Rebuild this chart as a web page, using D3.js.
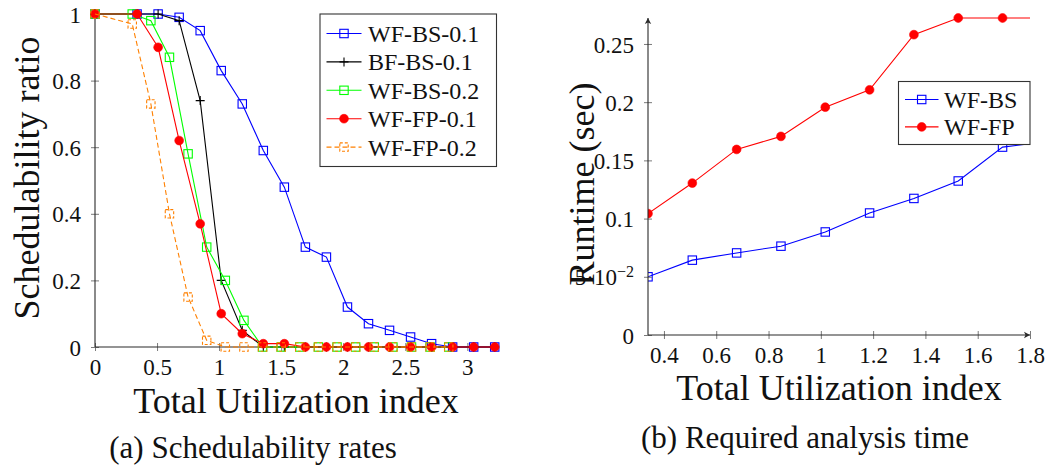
<!DOCTYPE html>
<html><head><meta charset="utf-8">
<script src="https://cdn.jsdelivr.net/npm/d3@7/dist/d3.min.js"></script>
<style>
html,body{margin:0;padding:0;background:#fff;}
svg{display:block;}
svg text{font-family:"Liberation Serif","Times New Roman",serif !important;}
</style></head>
<body>
<svg id="c" width="1049" height="466"></svg>
<script>
// ---------- data: (a) schedulability ----------
const xStepA = [0, 0.339, 0.5085, 0.678, 0.8475, 1.017, 1.1865, 1.356, 1.5255, 1.695, 1.8645, 2.034, 2.2035, 2.373, 2.5425, 2.712, 2.8815, 3.051, 3.2205];
const xStepB = [0, 0.3, 0.45, 0.6, 0.75, 0.9, 1.05, 1.2, 1.35, 1.5, 1.65, 1.8, 1.95, 2.1, 2.25, 2.4, 2.55, 2.7, 2.85];
const wfBs01 = [1, 1, 1, 0.99, 0.95, 0.83, 0.73, 0.59, 0.48, 0.30, 0.27, 0.12, 0.07, 0.05, 0.03, 0.01, 0, 0, 0];
const bfBs01 = [1, 1, 1, 0.98, 0.74, 0.20, 0.05, 0, 0, 0, 0, 0, 0, 0, 0, 0, 0, 0, 0];
const wfBs02 = [1, 1, 0.98, 0.87, 0.58, 0.30, 0.20, 0.08, 0, 0, 0, 0, 0, 0, 0, 0, 0, 0, 0];
const wfFp01 = [1, 1, 0.90, 0.62, 0.37, 0.10, 0.04, 0.01, 0.01, 0, 0, 0, 0, 0, 0, 0, 0, 0, 0];
const wfFp02 = [1, 0.97, 0.73, 0.40, 0.15, 0.02, 0, 0, 0, 0, 0, 0, 0, 0, 0, 0, 0, 0, 0];
const seriesNamesA = ["WF-BS-0.1", "BF-BS-0.1", "WF-BS-0.2", "WF-FP-0.1", "WF-FP-0.2"];
const xTicksA = [0, 0.5, 1, 1.5, 2, 2.5, 3];
const xTickLabelsA = ["0", "0.5", "1", "1.5", "2", "2.5", "3"];
const yTicksA = [0, 0.2, 0.4, 0.6, 0.8, 1];
const yTickLabelsA = ["0", "0.2", "0.4", "0.6", "0.8", "1"];

// ---------- data: (b) runtime ----------
const xUtilB = [0.339, 0.5085, 0.678, 0.8475, 1.017, 1.1865, 1.356, 1.5255, 1.695, 1.8645];
const runtimeBs = [0.050, 0.0643, 0.0705, 0.0763, 0.0885, 0.1048, 0.1173, 0.1323, 0.1614, 0.166];
const runtimeFp = [0.1043, 0.1305, 0.1594, 0.1706, 0.1957, 0.2106, 0.258, 0.2723, 0.2723, 0.2723];
const seriesNamesB = ["WF-BS", "WF-FP"];
const xTicksB = [0.4, 0.6, 0.8, 1, 1.2, 1.4, 1.6, 1.8];
const xTickLabelsB = ["0.4", "0.6", "0.8", "1", "1.2", "1.4", "1.6", "1.8"];
const yTicksB = [0, 0.05, 0.1, 0.15, 0.2, 0.25];
const yTickLabelsB = ["0", "5e-2", "0.1", "0.15", "0.2", "0.25"];

const svg = d3.select("#c");
const AX = "#2a2a2a", TK = "#7a7a7a";
const SERIF = "'Liberation Serif', 'Times New Roman', serif";
const tickFont = 23, legFont = 24, titleFont = 36, capFont = 31;

function markerPath(sel, type, color, dash) {
  if (type === "square") {
    sel.append("rect").attr("x", -4.2).attr("y", -4.2).attr("width", 8.4).attr("height", 8.4)
      .attr("fill", "none").attr("stroke", color).attr("stroke-width", 1.1)
      .attr("stroke-dasharray", dash || null);
  } else if (type === "circle") {
    sel.append("circle").attr("r", 4.4).attr("fill", color).attr("stroke", color).attr("stroke-width", 0.6);
  } else if (type === "plus") {
    sel.append("path").attr("d", "M-4.5,0H4.5M0,-4.5V4.5").attr("stroke", color).attr("stroke-width", 1.1).attr("fill", "none");
  }
}

function drawAxes(g, x, y, xt, xtl, yt, ytl, arrows) {
  const x0 = x.range()[0], x1 = x.range()[1], y0 = y.range()[0], y1 = y.range()[1];
  const ax = d3.axisBottom(x).tickValues(xt).tickFormat((d, i) => xtl[i]).tickSizeOuter(0).tickSize(4).tickPadding(7);
  const gx = g.append("g").attr("transform", `translate(0,${y0})`).call(ax);
  gx.attr("font-family", SERIF);
  gx.select(".domain").remove();
  gx.selectAll(".tick line").attr("y1", -4).attr("y2", 4).attr("stroke", TK);
  gx.selectAll(".tick text").attr("font-size", tickFont).style("font-family", SERIF).attr("fill", "#111")
    .attr("y", 20).attr("dy", "0.35em");
  const ay = d3.axisLeft(y).tickValues(yt).tickFormat((d, i) => ytl[i]).tickSizeOuter(0).tickSize(4).tickPadding(10);
  const gy = g.append("g").attr("transform", `translate(${x0},0)`).call(ay);
  gy.attr("font-family", SERIF);
  gy.select(".domain").remove();
  gy.selectAll(".tick line").attr("x1", -4).attr("x2", 4).attr("stroke", TK);
  gy.selectAll(".tick text").attr("font-size", tickFont).style("font-family", SERIF).attr("fill", "#111").attr("dy", "0.35em");
  g.append("line").attr("x1", x0).attr("x2", x1).attr("y1", y0).attr("y2", y0).attr("stroke", AX).attr("stroke-width", 1.1);
  g.append("line").attr("x1", x0).attr("x2", x0).attr("y1", y0).attr("y2", y1).attr("stroke", AX).attr("stroke-width", 1.1);
  if (arrows) {
    g.append("path").attr("d", `M${x1},${y0}l-6,-3.2l1.5,3.2l-1.5,3.2z`).attr("fill", AX);
    g.append("path").attr("d", `M${x0},${y1}l-3.2,6l3.2,-1.5l3.2,1.5z`).attr("fill", AX);
  }
}

function addText(g, x, y, size, str, anchor, transform) {
  const t = g.append("text").attr("dy", "0.35em").attr("text-anchor", anchor || "start")
    .attr("font-size", size).style("font-family", SERIF).attr("fill", "#111").text(str);
  if (transform) t.attr("transform", transform); else t.attr("x", x).attr("y", y);
  return t;
}

// ================= Chart (a) =================
const xA = d3.scaleLinear().domain([0, 3.255]).range([95, 499]);
const yA = d3.scaleLinear().domain([0, 1]).range([347, 14]);
const gA = svg.append("g");
drawAxes(gA, xA, yA, xTicksA, xTickLabelsA, yTicksA, yTickLabelsA, false);

const seriesA = [
  {name: seriesNamesA[0], xs: xStepA, ys: wfBs01, color: "#0000ff", mark: "square", dash: null},
  {name: seriesNamesA[1], xs: xStepA, ys: bfBs01, color: "#000000", mark: "plus", dash: null},
  {name: seriesNamesA[2], xs: xStepB, ys: wfBs02, color: "#00ff00", mark: "square", dash: null},
  {name: seriesNamesA[3], xs: xStepA, ys: wfFp01, color: "#ff0000", mark: "circle", dash: null},
  {name: seriesNamesA[4], xs: xStepB, ys: wfFp02, color: "#ff8000", mark: "square", dash: "5,3"}
];
const lineA = d3.line().x(d => xA(d[0])).y(d => yA(d[1]));
seriesA.forEach(s => {
  const pts = s.xs.map((x, i) => [x, s.ys[i]]);
  const g = gA.append("g");
  g.append("path").attr("d", lineA(pts)).attr("fill", "none").attr("stroke", s.color)
    .attr("stroke-width", 1.1).attr("stroke-dasharray", s.dash);
  pts.forEach(p => {
    const m = g.append("g").attr("transform", `translate(${xA(p[0])},${yA(p[1])})`);
    markerPath(m, s.mark, s.color, s.dash ? "3,2" : null);
  });
});

// legend (a)
const legA = gA.append("g");
legA.append("rect").attr("x", 320).attr("y", 14).attr("width", 176.5).attr("height", 152.5)
  .attr("fill", "#fff").attr("stroke", "#333").attr("stroke-width", 1.1);
seriesA.forEach((s, i) => {
  const yy = 33.5 + i * 28.4;
  legA.append("line").attr("x1", 326.5).attr("x2", 361.5).attr("y1", yy).attr("y2", yy)
    .attr("stroke", s.color).attr("stroke-width", 1.1).attr("stroke-dasharray", s.dash);
  const m = legA.append("g").attr("transform", `translate(344,${yy})`);
  markerPath(m, s.mark, s.color, s.dash ? "3,2" : null);
  addText(legA, 368, yy, legFont, s.name);
});

// titles (a)
addText(gA, 296, 400, titleFont, "Total Utilization index", "middle");
addText(gA, 0, 0, titleFont, "Schedulability ratio", "middle", "translate(26,178) rotate(-90)");
addText(gA, 253, 447, capFont, "(a) Schedulability rates", "middle");

// ================= Chart (b) =================
const xB = d3.scaleLinear().domain([0.339, 1.8]).range([648, 1030]);
const yB = d3.scaleLinear().domain([0, 0.2723]).range([335, 18]);
const gB = svg.append("g");
svg.append("defs").append("clipPath").attr("id", "clipB").append("rect")
  .attr("x", 648).attr("y", 10).attr("width", 382).attr("height", 330);

const seriesB = [
  {name: seriesNamesB[0], ys: runtimeBs, color: "#0000ff", mark: "square"},
  {name: seriesNamesB[1], ys: runtimeFp, color: "#ff0000", mark: "circle"}
];
const lineB = d3.line().x(d => xB(d[0])).y(d => yB(d[1]));
const plotB = gB.append("g").attr("clip-path", "url(#clipB)");
seriesB.forEach(s => {
  const pts = xUtilB.map((x, i) => [x, s.ys[i]]);
  plotB.append("path").attr("d", lineB(pts)).attr("fill", "none").attr("stroke", s.color).attr("stroke-width", 1.1);
  pts.forEach(p => {
    if (p[0] > 1.8) return;
    const m = plotB.append("g").attr("transform", `translate(${xB(p[0])},${yB(p[1])})`);
    markerPath(m, s.mark, s.color, null);
  });
});
drawAxes(gB, xB, yB, xTicksB, xTickLabelsB, yTicksB, yTickLabelsB, true);
gB.selectAll(".tick text").filter(function() { return d3.select(this).text() === "5e-2"; })
  .each(function() {
    const t = d3.select(this);
    t.text("");
    t.append("tspan").text("5·10");
    t.append("tspan").attr("dy", "-0.55em").attr("font-size", 16).text("−2");
  });

// legend (b)
const legB = gB.append("g");
legB.append("rect").attr("x", 898.5).attr("y", 81.5).attr("width", 131.5).attr("height", 63)
  .attr("fill", "#fff").attr("stroke", "#333").attr("stroke-width", 1.1);
seriesB.forEach((s, i) => {
  const yy = 99.5 + i * 27.4;
  legB.append("line").attr("x1", 905).attr("x2", 938.5).attr("y1", yy).attr("y2", yy)
    .attr("stroke", s.color).attr("stroke-width", 1.1);
  const m = legB.append("g").attr("transform", `translate(921.7,${yy})`);
  markerPath(m, s.mark, s.color, null);
  addText(legB, 944, yy, legFont, s.name);
});

// titles (b)
addText(gB, 839, 387, titleFont, "Total Utilization index", "middle");
addText(gB, 0, 0, titleFont, "Runtime (sec)", "middle", "translate(581,184) rotate(-90)");
addText(gB, 805, 437, capFont, "(b) Required analysis time", "middle");
</script>
</body></html>
